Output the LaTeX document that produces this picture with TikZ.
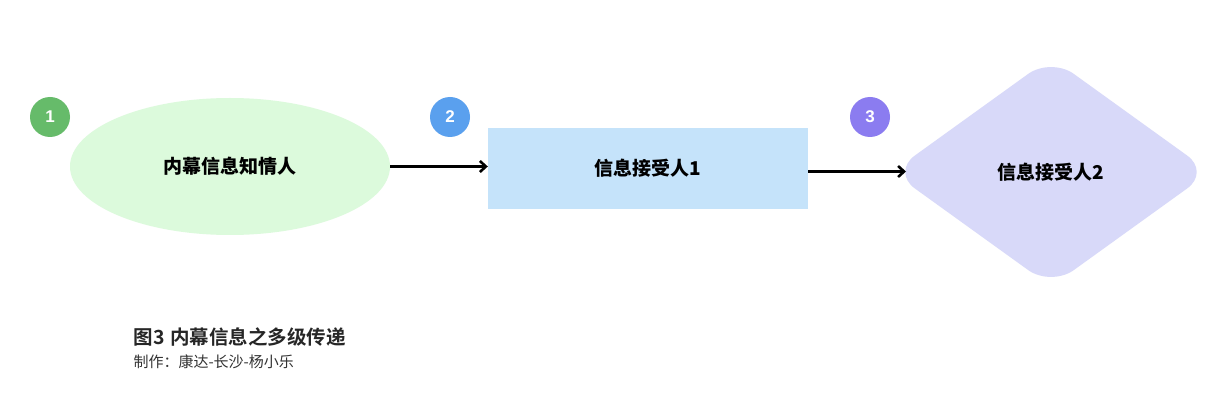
\documentclass[tikz,border=0pt]{standalone}
\usepackage{fontspec}
\newfontfamily\cjk{Noto Sans CJK SC}
\newfontfamily\cjkb{Noto Sans CJK SC Bold}
\newfontfamily\cjkblk{Noto Sans CJK SC Black}
\newfontfamily\numf{Liberation Sans}
\usetikzlibrary{shapes.geometric,arrows.meta}
\definecolor{cgreen}{HTML}{66BB6A}
\definecolor{cblue}{HTML}{5AA0EE}
\definecolor{cpurple}{HTML}{8B7CF0}
\definecolor{fgreen}{HTML}{DCFADC}
\definecolor{fblue}{HTML}{C5E3FA}
\definecolor{fpurple}{HTML}{D8D9F9}
\begin{document}
\begin{tikzpicture}[x=1pt,y=-1pt,
  badge/.style={circle,minimum size=40pt,inner sep=0pt,text=white,font=\numf\bfseries\fontsize{17}{17}\selectfont},
  lbl/.style={font=\cjkblk\fontsize{19}{19}\selectfont,text=black},
  conn/.style={-{Straight Barb[length=6pt,width=11pt,line width=2.6pt]},line width=2.8pt,black}]
\useasboundingbox (0,0) rectangle (1232,406);
\fill[white] (0,0) rectangle (1232,406);
\node[ellipse,fill=fgreen,minimum width=320pt,minimum height=137pt,inner sep=0pt] (e) at (230,166.5) {};
\node[lbl] at (e.center) {内幕信息知情人};
\node[rectangle,fill=fblue,minimum width=320pt,minimum height=81pt,inner sep=0pt] (r) at (648,168.5) {};
\node[lbl] at (r.center) {信息接受人1};
\fill[fpurple,rounded corners=28pt] (892,172) -- (1051,57.5) -- (1210,172) -- (1051,286.5) -- cycle;
\coordinate (d) at (1051,172);
\coordinate (dw) at (906,171.5);
\coordinate (rs) at (808,171.5);
\node[lbl] at (d) {信息接受人2};
\node[badge,fill=cgreen] (b1) at (50,117) {1};
\node[badge,fill=cblue] (b2) at (450,117) {2};
\node[badge,fill=cpurple] (b3) at (870,117) {3};
\draw[conn] (e.east) -- ([yshift=2pt]r.west);
\draw[conn] (rs) -- (dw);
\node[anchor=west,font=\cjkb\fontsize{19.5}{19.5}\selectfont,text=black!85] (cap) at (130,337) {图3\hspace{0.3em}内幕信息之多级传递};
\node[anchor=west,font=\cjk\fontsize{15}{15}\selectfont,text=black!80] (auth) at (130,362) {制作：康达-长沙-杨小乐};
\end{tikzpicture}
\end{document}
